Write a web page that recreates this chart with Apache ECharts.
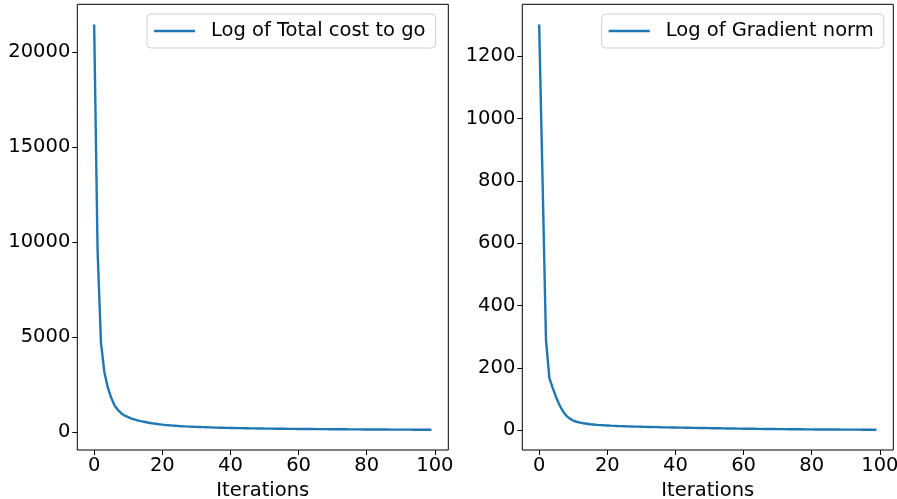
<!DOCTYPE html>
<html>
<head>
<meta charset="utf-8">
<script src="https://cdn.jsdelivr.net/npm/echarts@6/dist/echarts.min.js"></script>
<style>
html,body{margin:0;padding:0;background:#fff;}
#c{width:897px;height:499px;}
</style>
</head>
<body>
<div id="c"></div>
<script>
// Iterations 0..99
const iterations = Array.from({length: 100}, (_, i) => i);

// Log of Total cost to go
const totalCost = [
  21455, 9580, 4690, 3150, 2350, 1800, 1400, 1150, 980, 860,
  780, 710, 650, 600, 560, 525, 490, 460, 435, 410,
  390, 372, 356, 341, 328, 316, 305, 295, 286, 278,
  270, 263, 256, 250, 244, 238, 233, 228, 223, 219,
  215, 211, 207, 204, 200, 197, 194, 191, 188, 186,
  183, 181, 178, 176, 174, 172, 170, 168, 166, 164,
  162, 161, 159, 157, 156, 154, 153, 151, 150, 148,
  147, 146, 144, 143, 142, 141, 139, 138, 137, 136,
  135, 134, 133, 132, 131, 130, 129, 128, 128, 127,
  126, 125, 124, 124, 123, 122, 122, 121, 120, 120
];

// Log of Gradient norm
const gradNorm = [
  1302, 800, 290, 167, 135, 105, 80, 60, 46, 37,
  31, 27, 24, 22, 20.5, 19, 18, 17, 16.3, 15.6,
  15, 14.4, 13.9, 13.4, 13, 12.6, 12.2, 11.9, 11.5, 11.2,
  10.9, 10.6, 10.3, 10.1, 9.8, 9.6, 9.3, 9.1, 8.9, 8.7,
  8.5, 8.3, 8.1, 7.9, 7.7, 7.5, 7.3, 7.1, 6.9, 6.7,
  6.5, 6.3, 6.1, 5.9, 5.7, 5.5, 5.4, 5.2, 5.0, 4.9,
  4.7, 4.6, 4.4, 4.3, 4.1, 4.0, 3.9, 3.7, 3.6, 3.5,
  3.4, 3.3, 3.2, 3.1, 3.0, 2.9, 2.8, 2.7, 2.6, 2.5,
  2.4, 2.35, 2.3, 2.2, 2.15, 2.1, 2.0, 1.95, 1.9, 1.85,
  1.8, 1.75, 1.7, 1.65, 1.6, 1.55, 1.5, 1.45, 1.4, 1.35
];

const xTicks = [0, 20, 40, 60, 80, 100];
const yTicksLeft = [0, 5000, 10000, 15000, 20000];
const yTicksRight = [0, 200, 400, 600, 800, 1000, 1200];

const seriesNames = ['Log of Total cost to go', 'Log of Gradient norm'];
const xName = 'Iterations';

function pad(arr) {
  const mn = Math.min(...arr), mx = Math.max(...arr);
  const r = mx - mn;
  return [mn - 0.05 * r, mx + 0.05 * r];
}
const xr = pad(iterations);
const yl = pad(totalCost);
const yr = pad(gradNorm);

const FONT = 'DejaVu Sans';
const FS = 19.5;
const lblStyle = {color: '#000', fontFamily: FONT, fontSize: FS, formatter: v => String(Math.round(v))};

function xAxisDef(gi) {
  return {
    type: 'value', gridIndex: gi, min: xr[0], max: xr[1],
    name: xName, nameLocation: 'middle', nameGap: 24,
    nameTextStyle: {color: '#000', fontFamily: FONT, fontSize: FS},
    axisLine: {show: false, onZero: false},
    axisTick: {show: true, length: 5, lineStyle: {color: '#000', width: 1}, customValues: xTicks},
    axisLabel: Object.assign({margin: 6, customValues: xTicks}, lblStyle),
    splitLine: {show: false}
  };
}
function yAxisDef(gi, r, ticks) {
  return {
    type: 'value', gridIndex: gi, min: r[0], max: r[1],
    axisLine: {show: false, onZero: false},
    axisTick: {show: true, length: 5, lineStyle: {color: '#000', width: 1}, customValues: ticks},
    axisLabel: Object.assign({margin: 7, customValues: ticks}, lblStyle),
    splitLine: {show: false}
  };
}
function legendDef(name, left) {
  return {
    data: [name], left: left, top: 14,
    orient: 'horizontal',
    icon: 'rect',
    itemWidth: 41, itemHeight: 2.5,
    padding: [7, 10, 7, 7],
    borderColor: '#d0d0d0', borderWidth: 1, borderRadius: 4,
    backgroundColor: '#fff',
    textStyle: {color: '#000', fontFamily: FONT, fontSize: FS, padding: [0, 0, 0, 11]},
    selectedMode: false
  };
}

const chart = echarts.init(document.getElementById('c'), null, {renderer: 'canvas'});
chart.setOption({
  animation: false,
  backgroundColor: '#fff',
  grid: [
    {left: 77.3, top: 4.3, width: 371, height: 445.7, show: true, borderColor: '#000', borderWidth: 1, backgroundColor: 'transparent', outerBoundsMode: 'none', containLabel: false},
    {left: 522.3, top: 4.3, width: 371, height: 445.7, show: true, borderColor: '#000', borderWidth: 1, backgroundColor: 'transparent', outerBoundsMode: 'none', containLabel: false}
  ],
  xAxis: [xAxisDef(0), xAxisDef(1)],
  yAxis: [yAxisDef(0, yl, yTicksLeft), yAxisDef(1, yr, yTicksRight)],
  legend: [legendDef(seriesNames[0], 147), legendDef(seriesNames[1], 601.7)],
  series: [
    {
      name: seriesNames[0], type: 'line', xAxisIndex: 0, yAxisIndex: 0,
      data: iterations.map((x, i) => [x, totalCost[i]]),
      showSymbol: false, symbol: 'none',
      lineStyle: {color: '#1f77b4', width: 2.4}, itemStyle: {color: '#1f77b4'}
    },
    {
      name: seriesNames[1], type: 'line', xAxisIndex: 1, yAxisIndex: 1,
      data: iterations.map((x, i) => [x, gradNorm[i]]),
      showSymbol: false, symbol: 'none',
      lineStyle: {color: '#1f77b4', width: 2.4}, itemStyle: {color: '#1f77b4'}
    }
  ]
});
</script>
</body>
</html>
